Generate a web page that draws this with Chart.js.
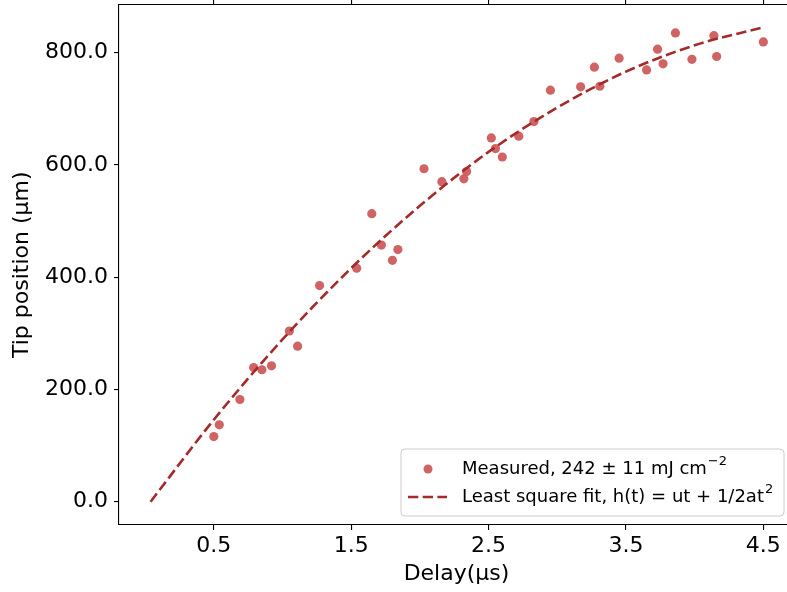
<!DOCTYPE html>
<html>
<head>
<meta charset="utf-8">
<script src="https://cdn.jsdelivr.net/npm/chart.js@4"></script>
<style>
  html, body { margin: 0; padding: 0; background: #fff; overflow: hidden; }
  canvas { display: block; }
</style>
</head>
<body>
<canvas id="myChart" width="800" height="592"></canvas>
<script>
// measured points (delay in µs, tip position in µm)
const delay = [0.50, 0.54, 0.69, 0.79, 0.85, 0.92, 1.05, 1.11, 1.27, 1.54, 1.65, 1.72, 1.80, 1.84,
  2.03, 2.16, 2.32, 2.34, 2.52, 2.55, 2.60, 2.72, 2.83, 2.95, 3.17, 3.27, 3.31, 3.45, 3.65, 3.73,
  3.77, 3.86, 3.98, 4.14, 4.16, 4.50];
const tipPos = [116, 137, 182, 239, 235, 242, 304, 277, 385, 416, 513, 457, 430, 449,
  593, 570, 575, 588, 648, 629, 614, 651, 677, 733, 739, 774, 740, 790, 769, 806,
  780, 835, 788, 830, 793, 819];

// least square fit curve
const fitT = [0.04, 0.5, 1.0, 1.5, 2.0, 2.5, 3.0, 3.5, 4.0, 4.5];
const fitH = [0, 146, 289, 416, 527, 623, 702, 766, 813, 845];

const xTicks = [0.5, 1.5, 2.5, 3.5, 4.5];
const yTicks = [0, 200, 400, 600, 800];

const ptColor = 'rgba(205, 92, 92, 0.95)';
const lineColor = '#a52a2a';
const dash = [10.3, 4.4];
const font = 'DejaVu Sans';

const legendBox = {
  id: 'legendBox',
  afterDraw(chart) {
    const c = chart.ctx;
    const a = chart.chartArea;
    const w = 383, h = 67;
    const x = a.right - 10 - w, y = a.bottom - 9 - h;
    c.save();
    c.beginPath();
    c.roundRect(x, y, w, h, 4);
    c.fillStyle = 'rgba(255,255,255,0.8)';
    c.fill();
    c.strokeStyle = '#cccccc';
    c.lineWidth = 1;
    c.stroke();

    c.fillStyle = ptColor;
    c.beginPath();
    c.arc(x + 27, y + 20, 4.5, 0, Math.PI * 2);
    c.fill();

    c.strokeStyle = lineColor;
    c.lineWidth = 2.6;
    c.setLineDash(dash);
    c.beginPath();
    c.moveTo(x + 7, y + 48);
    c.lineTo(x + 46, y + 48);
    c.stroke();
    c.setLineDash([]);

    c.fillStyle = '#000';
    c.textBaseline = 'middle';
    const tx = x + 61;
    const rows = [['Measured, 242 \u00b1 11 mJ cm', '\u22122', y + 20],
                  ['Least square fit, h(t) = ut + 1/2at', '2', y + 48]];
    rows.forEach(([txt, sup, ry]) => {
      c.font = '18px "' + font + '"';
      c.fillText(txt, tx, ry);
      const tw = c.measureText(txt).width;
      c.font = '13px "' + font + '"';
      c.fillText(sup, tx + tw + 1, ry - 7);
    });
    c.restore();
  }
};

function noPad(s) {
  s.paddingTop = 0; s.paddingBottom = 0; s.paddingLeft = 0; s.paddingRight = 0;
}

const ctx = document.getElementById('myChart').getContext('2d');
new Chart(ctx, {
  data: {
    datasets: [
      {
        type: 'line',
        label: 'Least square fit',
        data: fitT.map((t, i) => ({x: t, y: fitH[i]})),
        borderColor: lineColor,
        borderWidth: 2.6,
        borderDash: dash,
        pointRadius: 0,
        cubicInterpolationMode: 'monotone',
        fill: false,
        order: 0
      },
      {
        type: 'scatter',
        label: 'Measured',
        data: delay.map((t, i) => ({x: t, y: tipPos[i]})),
        backgroundColor: ptColor,
        borderWidth: 0,
        pointRadius: 4.6,
        order: 1
      }
    ]
  },
  options: {
    responsive: false,
    animation: false,
    devicePixelRatio: 1,
    layout: { padding: { top: 0, right: 6, bottom: 0, left: 0 } },
    plugins: {
      legend: { display: false },
      tooltip: { enabled: false }
    },
    scales: {
      x: {
        type: 'linear',
        position: 'bottom',
        min: -0.19,
        max: 4.723,
        afterBuildTicks: s => { s.ticks = xTicks.map(v => ({value: v})); },
        afterFit: s => { s.height = 67; noPad(s); },
        grid: { drawOnChartArea: false, drawTicks: true, tickLength: 5, color: '#000', lineWidth: 1.1 },
        border: { display: true, color: '#000', width: 1.1 },
        ticks: {
          color: '#000', padding: 3, maxRotation: 0,
          font: { family: font, size: 22 },
          callback: v => v.toFixed(1)
        },
        title: {
          display: true, text: 'Delay(\u00b5s)', color: '#000',
          font: { family: font, size: 22 }, padding: { top: 0, bottom: 5 }
        }
      },
      x2: {
        type: 'linear',
        position: 'top',
        min: -0.19,
        max: 4.723,
        afterBuildTicks: s => { s.ticks = xTicks.map(v => ({value: v})); },
        afterFit: s => { s.height = 4; noPad(s); },
        grid: { drawOnChartArea: false, drawTicks: true, tickLength: 5, color: '#000', lineWidth: 1.1 },
        border: { display: true, color: '#000', width: 1.1 },
        ticks: { display: false }
      },
      y: {
        type: 'linear',
        position: 'left',
        min: -41.5,
        max: 885.4,
        afterBuildTicks: s => { s.ticks = yTicks.map(v => ({value: v})); },
        afterFit: s => { s.width = 119; noPad(s); },
        grid: { drawOnChartArea: false, drawTicks: true, tickLength: 5, color: '#000', lineWidth: 1.1 },
        border: { display: true, color: '#000', width: 1.1 },
        ticks: {
          color: '#000', padding: 6,
          font: { family: font, size: 22 },
          callback: v => v.toFixed(1)
        },
        title: {
          display: true, text: 'Tip position (\u00b5m)', color: '#000',
          font: { family: font, size: 22 }, padding: { top: 9, bottom: 0 }
        }
      }
    }
  },
  plugins: [legendBox]
});
</script>
</body>
</html>
